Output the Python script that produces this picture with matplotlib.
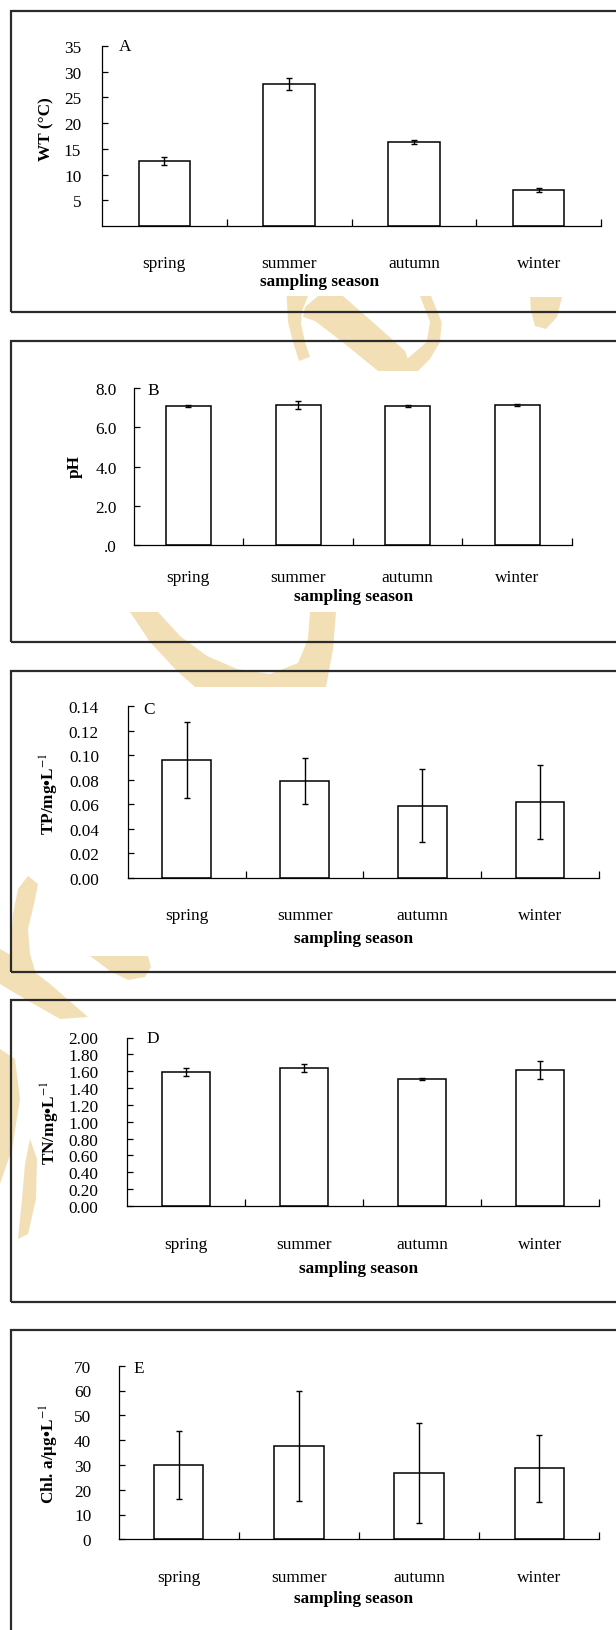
import matplotlib
matplotlib.use('Agg')
import matplotlib.pyplot as plt
from matplotlib.patches import Rectangle, Polygon
from matplotlib.ticker import FixedLocator, NullFormatter

# ---------------- data ----------------
seasons = ['spring', 'summer', 'autumn', 'winter']

wt_mean = [12.7, 27.6, 16.4, 7.0]
wt_err = [0.8, 1.2, 0.36, 0.39]
wt_ticks = [5, 10, 15, 20, 25, 30, 35]
wt_ticklabels = ['5', '10', '15', '20', '25', '30', '35']

ph_mean = [7.11, 7.16, 7.11, 7.16]
ph_err = [0.05, 0.21, 0.05, 0.04]
ph_ticks = [0, 2, 4, 6, 8]
ph_ticklabels = ['.0', '2.0', '4.0', '6.0', '8.0']

tp_mean = [0.096, 0.079, 0.059, 0.062]
tp_err = [0.031, 0.019, 0.030, 0.030]
tp_ticks = [0.00, 0.02, 0.04, 0.06, 0.08, 0.10, 0.12, 0.14]
tp_ticklabels = ['0.00', '0.02', '0.04', '0.06', '0.08', '0.10', '0.12', '0.14']

tn_mean = [1.59, 1.64, 1.505, 1.61]
tn_err = [0.047, 0.05, 0.01, 0.108]
tn_ticks = [0.0, 0.2, 0.4, 0.6, 0.8, 1.0, 1.2, 1.4, 1.6, 1.8, 2.0]
tn_ticklabels = ['0.00', '0.20', '0.40', '0.60', '0.80', '1.00', '1.20',
                 '1.40', '1.60', '1.80', '2.00']

chl_mean = [30.0, 37.6, 26.6, 28.6]
chl_err = [13.6, 22.0, 20.1, 13.5]
chl_ticks = [0, 10, 20, 30, 40, 50, 60, 70]
chl_ticklabels = ['0', '10', '20', '30', '40', '50', '60', '70']

# ---------------- style ----------------
plt.rcParams['font.family'] = ['Liberation Serif', 'DejaVu Serif']
plt.rcParams['mathtext.fontset'] = 'stix'
FS = 12.4
W, H = 616, 1631
fig = plt.figure(figsize=(W / 100, H / 100), dpi=100)
fig.patch.set_facecolor('white')


def fx(x):
    return x / W


def fy(y):
    return 1 - y / H


# ---------------- watermark (approximate) ----------------
wm_color = '#F3DFB6'
wm_shapes = [
    [(286.7, 297), (288, 323), (293, 343), (299, 362), (310, 358), (305, 343),
     (301, 325), (302, 312), (308, 297)],
    [(318, 297), (343, 297), (375, 325), (405, 352), (412, 372), (378, 372),
     (345, 345), (315, 322), (303, 318), (305, 308)],
    [(420, 297), (431, 297), (441.7, 323), (440, 343), (430, 360), (418, 372),
     (400, 372), (407, 360), (426.7, 343), (430, 323)],
    [(530, 298), (562, 298), (557, 318), (546, 330), (535, 327), (531, 312)],
    [(130, 613), (150, 643), (177, 672), (195, 688), (326, 688), (333, 650),
     (336, 613), (310, 613), (308, 640), (298, 664), (270, 675), (237, 670),
     (207, 657), (180, 637), (158, 613)],
    [(28, 877), (38, 885), (34, 905), (28, 930), (30, 955), (36, 975),
     (15, 985), (11, 950), (13, 915), (18, 890)],
    [(0, 950), (18, 960), (50, 985), (88, 1018), (60, 1020), (25, 1000),
     (0, 985)],
    [(90, 957), (148, 957), (151, 968), (145, 978), (128, 981), (110, 972)],
    [(0, 1050), (15, 1060), (20, 1100), (12, 1150), (0, 1185)],
    [(30, 1140), (37, 1160), (36, 1200), (28, 1235), (18, 1240), (22, 1200),
     (25, 1165)],
]
for pts in wm_shapes:
    poly = Polygon([(fx(x), fy(y)) for x, y in pts], closed=True,
                   facecolor=wm_color, edgecolor='none',
                   transform=fig.transFigure, zorder=-10)
    fig.add_artist(poly)

# ---------------- panel frames ----------------
frames = [(12, 313), (342, 643), (672, 973), (1001, 1303), (1331, 1700)]
for top, bot in frames:
    r = Rectangle((fx(10.6), fy(bot)), fx(660) - fx(10.6), fy(top) - fy(bot),
                  fill=False, edgecolor='#2b2b2b', linewidth=1.6,
                  transform=fig.transFigure, zorder=1)
    fig.add_artist(r)

# ---------------- panels ----------------
panels = [
    dict(mean=wt_mean, err=wt_err, ticks=wt_ticks, tl=wt_ticklabels, ymax=35,
         ylabel='WT (°C)', letter='A',
         ax=(101.8, 601.2, 227.0, 47.0), ypad=14.8, xpad=20.9,
         ylab_xy=(46, 129), let_xy=(125, 47), xl_xy=(319.4, 281.5)),
    dict(mean=ph_mean, err=ph_err, ticks=ph_ticks, tl=ph_ticklabels, ymax=8,
         ylabel='pH', letter='B',
         ax=(133.6, 572.1, 545.7, 389.3), ypad=12.2, xpad=17.3,
         ylab_xy=(74.7, 467), let_xy=(153.2, 390.7), xl_xy=(353.6, 596.7)),
    dict(mean=tp_mean, err=tp_err, ticks=tp_ticks, tl=tp_ticklabels, ymax=0.14,
         ylabel='TP/mg•L$^{-1}$', letter='C',
         ax=(127.7, 599.2, 879.0, 707.3), ypad=20.7, xpad=20.9,
         ylab_xy=(49, 793.3), let_xy=(149.3, 710), xl_xy=(353.6, 939.3)),
    dict(mean=tn_mean, err=tn_err, ticks=tn_ticks, tl=tn_ticklabels, ymax=2.0,
         ylabel='TN/mg•L$^{-1}$', letter='D',
         ax=(126.9, 599.2, 1207.0, 1038.5), ypad=20.6, xpad=21.4,
         ylab_xy=(50, 1122.5), let_xy=(152.5, 1038.7), xl_xy=(358.3, 1269.3)),
    dict(mean=chl_mean, err=chl_err, ticks=chl_ticks, tl=chl_ticklabels, ymax=70,
         ylabel='Chl. a/μg•L$^{-1}$', letter='E',
         ax=(118.7, 599.2, 1540.3, 1366.7), ypad=19.8, xpad=21.4,
         ylab_xy=(49, 1454), let_xy=(138.7, 1369.3), xl_xy=(353.6, 1599.3)),
]

xpos = list(range(len(seasons)))
for p in panels:
    l, r, y0, yt = p['ax']
    ax = fig.add_axes([fx(l), fy(y0), (r - l) / W, (y0 - yt) / H])
    ax.set_facecolor('none')
    ax.bar(xpos, p['mean'], width=0.41, color='white', edgecolor='black',
           linewidth=1.1, yerr=p['err'],
           error_kw=dict(ecolor='black', elinewidth=1.0, capsize=2.2,
                         capthick=1.0), zorder=2)
    ax.set_xlim(-0.5, 3.5)
    ax.set_ylim(0, p['ymax'])
    for s in ['top', 'right']:
        ax.spines[s].set_visible(False)
    for s in ['left', 'bottom']:
        ax.spines[s].set_linewidth(0.9)
        ax.spines[s].set_color('black')
    # x axis: boundary ticks (major, no labels), centered labels (minor)
    ax.xaxis.set_major_locator(FixedLocator([0.5, 1.5, 2.5, 3.5]))
    ax.xaxis.set_major_formatter(NullFormatter())
    ax.xaxis.set_minor_locator(FixedLocator(xpos))
    ax.set_xticklabels(seasons, minor=True)
    ax.tick_params(axis='x', which='major', direction='in', length=5,
                   width=0.9, color='black')
    ax.tick_params(axis='x', which='minor', length=0, pad=p['xpad'],
                   labelsize=FS)
    # y axis
    ax.set_yticks(p['ticks'])
    ax.set_yticklabels(p['tl'])
    ax.tick_params(axis='y', direction='in', length=4, width=0.9,
                   pad=p['ypad'], labelsize=FS)
    # labels
    fig.text(fx(p['ylab_xy'][0]), fy(p['ylab_xy'][1]), p['ylabel'],
             rotation=90, ha='center', va='center', fontsize=FS,
             fontweight='bold')
    fig.text(fx(p['let_xy'][0]), fy(p['let_xy'][1]), p['letter'],
             ha='center', va='center', fontsize=FS)
    fig.text(fx(p['xl_xy'][0]), fy(p['xl_xy'][1]), 'sampling season',
             ha='center', va='center', fontsize=FS, fontweight='bold')

fig.savefig('out.png', dpi=100, facecolor='white')
